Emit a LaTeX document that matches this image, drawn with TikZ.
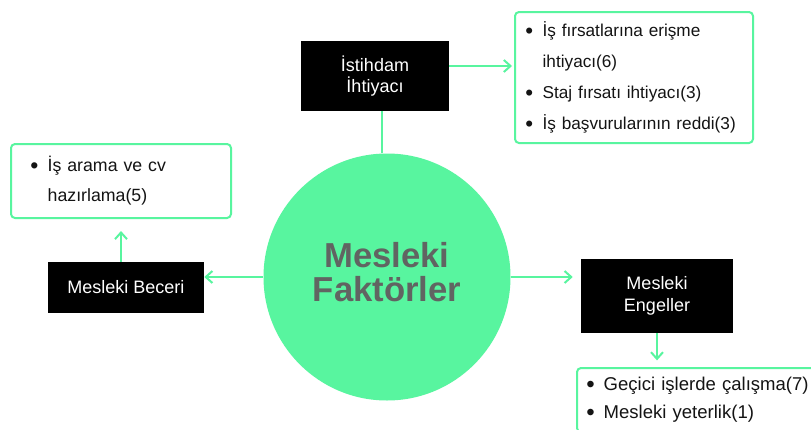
\documentclass[tikz,border=0pt]{standalone}
\usepackage{fontspec}
\setmainfont{Liberation Sans}
\usetikzlibrary{arrows.meta}
\definecolor{mint}{HTML}{58F59F}
\definecolor{slate}{HTML}{616462}
\definecolor{ink}{HTML}{141414}
\newcommand{\itm}{\makebox[14pt][l]{\hspace{1pt}\raisebox{-0.1em}{\scalebox{1.3}{\textbullet}}}}
\newcommand{\itmgap}{\hspace*{14pt}}
\tikzset{
  flow/.style={-{Straight Barb[length=5pt,width=9pt,line width=1.5pt]},draw=mint,line width=1.5pt},
  link/.style={draw=mint,line width=1.5pt},
  topic/.style={fill=black,text=white,align=center,inner sep=2pt,font=\fontsize{13.5}{16}\selectfont},
  core/.style={circle,fill=mint,inner sep=0pt,minimum size=185.25pt,align=center,text=slate,text depth=7pt,font=\bfseries\fontsize{26}{25.5}\selectfont},
  list/.style={draw=mint,line width=1.5pt,rounded corners=3pt,fill=white,anchor=north west,align=left,text=ink,inner ysep=0pt}
}

\begin{document}
\begin{tikzpicture}[x=0.75pt,y=-0.75pt]
  \path[fill=white,use as bounding box] (0,0) rectangle (811,429);
  \clip (0,0) rectangle (811,429);

  \node[core] (core) at (387,277) {Mesleki\\Faktörler};

  \node[topic,minimum width=111pt,minimum height=52.5pt] (istihdam) at (375,76) {İstihdam\\İhtiyacı};
  \node[topic,minimum width=117pt,minimum height=38.25pt] (beceri) at (126,287.5) {Mesleki Beceri};
  \node[topic,minimum width=114pt,minimum height=55.5pt] (engeller) at (657,296) {Mesleki\\Engeller};

  \node[list,minimum height=98.25pt,inner xsep=6.75pt,text width=165pt,font=\fontsize{12.9}{23.25}\selectfont] (needs) at (514,11) {
    \itm İş fırsatlarına erişme\\
    \itmgap ihtiyacı(6)\\
    \itm Staj fırsatı ihtiyacı(3)\\
    \itm İş başvurularının reddi(3)};
  \node[list,minimum height=55.5pt,inner xsep=13.5pt,text width=138pt,font=\fontsize{13.3}{22.5}\selectfont] (skills) at (10,143) {
    \itm İş arama ve cv\\
    \itmgap hazırlama(5)};
  \node[list,minimum height=48pt,inner xsep=6pt,text width=178.5pt,font=\fontsize{13.9}{21}\selectfont] (barriers) at (576,367) {
    \itm Geçici işlerde çalışma(7)\\
    \itm Mesleki yeterlik(1)};

  \draw[link] ([xshift=5pt]istihdam.south) -- ([xshift=5pt]istihdam.south |- core.north);
  \draw[flow,shorten >=1.5pt] ([yshift=7.5pt]istihdam.east) -- ([yshift=7.5pt]istihdam.east -| needs.west);
  \draw[flow] (core.west) -- (core.west -| beceri.east);
  \draw[flow,shorten >=9pt] (skills.south |- beceri.north) -- (skills.south);
  \draw[flow,shorten >=6pt] (core.east) -- (core.east -| engeller.west);
  \draw[flow,shorten >=5pt] (engeller.south) -- (engeller.south |- barriers.north);
\end{tikzpicture}
\end{document}
